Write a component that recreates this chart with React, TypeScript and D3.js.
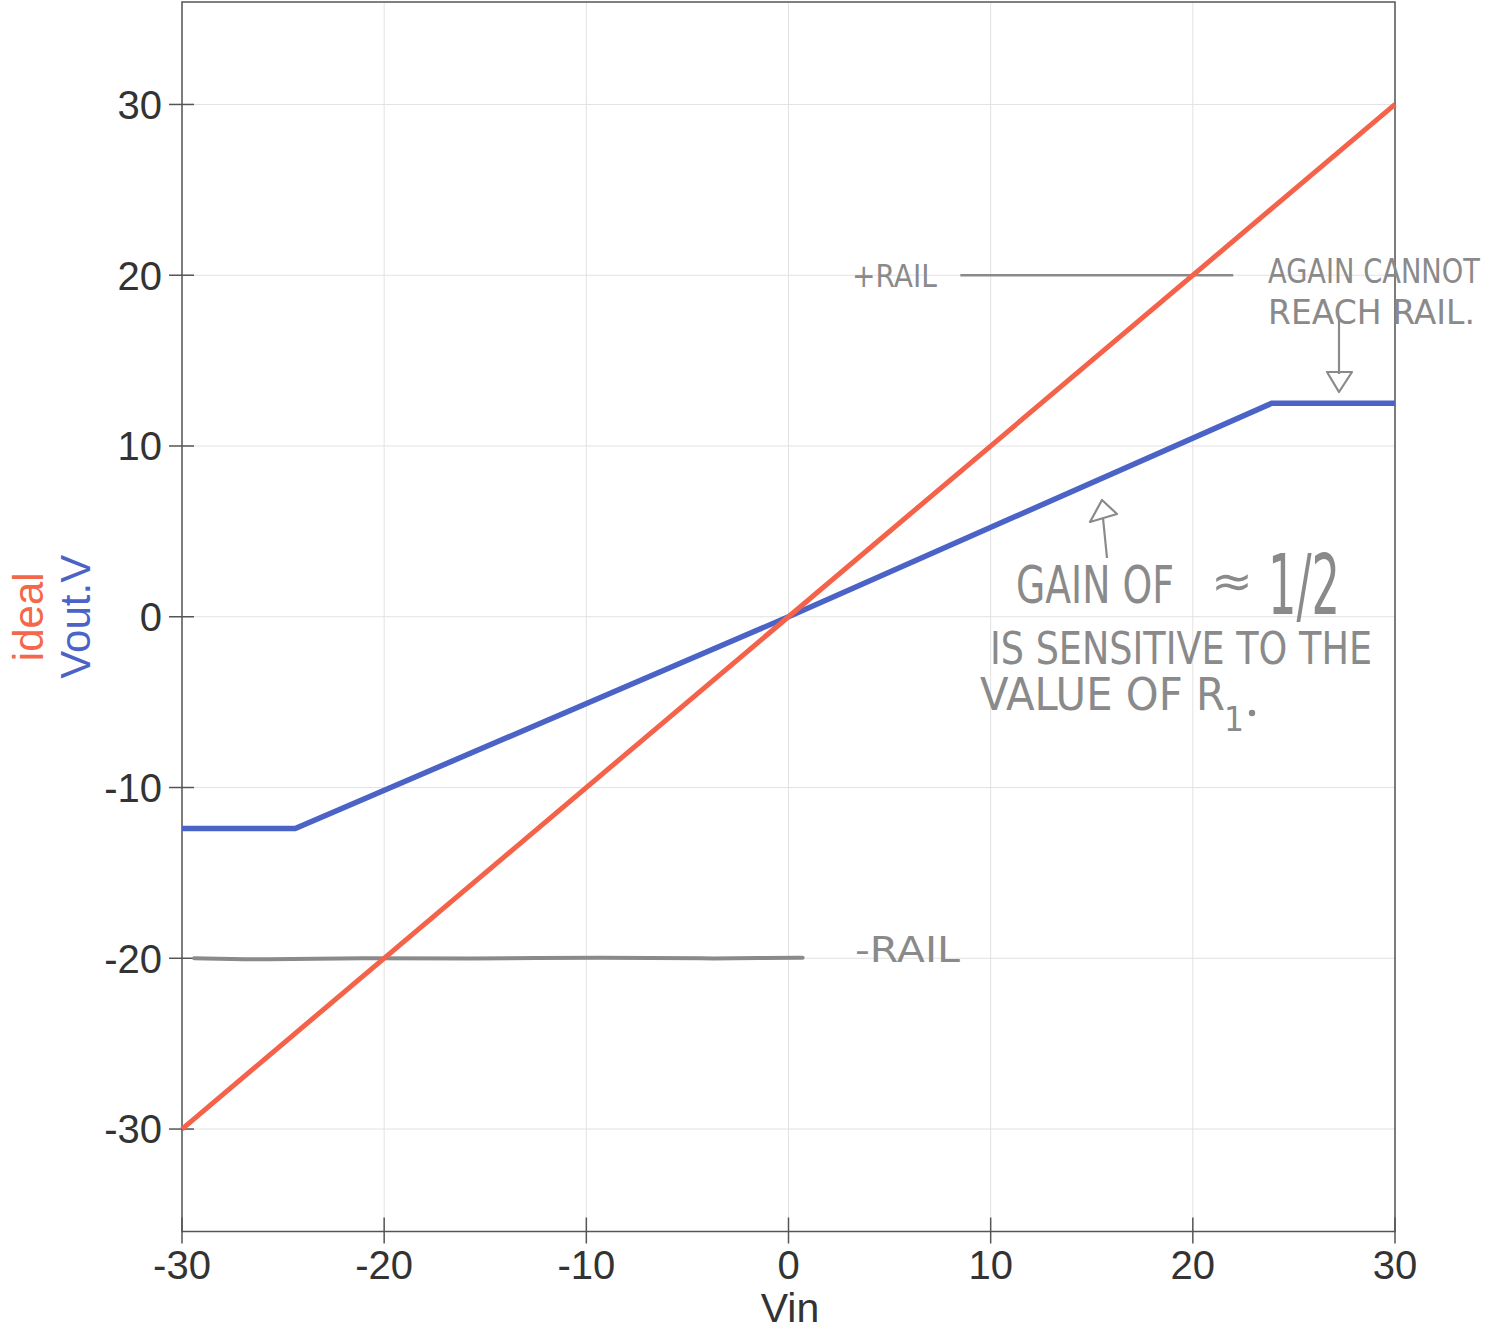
import React, { useLayoutEffect, useRef, useState } from "react";
import * as d3 from "d3";

// ---- data ----
const idealVin = [-30, 30];
const idealVout = [-30, 30];
const voutVin = [-30, -24.4, 0, 23.9, 30];
const voutV = [-12.4, -12.4, 0, 12.5, 12.5];
const xTicks = [-30, -20, -10, 0, 10, 20, 30];
const yTicks = [-30, -20, -10, 0, 10, 20, 30];
const posRailVin = [8.5, 22.0];
const negRailVin = [-29.4, -26, -21, -16, -9, -4, -1, 0.7];
const negRailV = [-20.0, -20.1, -19.97, -20.05, -19.93, -20.03, -19.98, -19.97];

const W = 1494;
const H = 1331;
const FONT = "'Liberation Sans', Arial, Helvetica, sans-serif";
const HAND = "'DejaVu Sans', sans-serif";
const PENCIL = "#8a8a8a";

function HandText(props: { x: number; y: number; w: number; size: number; sy?: number; children: string }) {
  const ref = useRef<SVGTextElement>(null);
  const [sx, setSx] = useState(1);
  const sy = props.sy ?? 1;
  useLayoutEffect(() => {
    if (ref.current) {
      const len = ref.current.getComputedTextLength();
      if (len > 0) setSx(props.w / len);
    }
  }, [props.w, props.children, props.size]);
  return (
    <text
      ref={ref}
      transform={`translate(${props.x},${props.y}) scale(${sx},${sy})`}
      fontSize={props.size}
      fontFamily={HAND}
      fill={PENCIL}
    >
      {props.children}
    </text>
  );
}

export default function App() {
  const x = d3.scaleLinear().domain([-30, 30]).range([182, 1395]);
  const y = d3.scaleLinear().domain([-36, 36]).range([1231.5, 2]);
  const line = d3
    .line<[number, number]>()
    .x((d) => x(d[0]))
    .y((d) => y(d[1]));
  const wavy = d3
    .line<[number, number]>()
    .x((d) => x(d[0]))
    .y((d) => y(d[1]))
    .curve(d3.curveBasis);

  const ideal = idealVin.map((v, i) => [v, idealVout[i]] as [number, number]);
  const vout = voutVin.map((v, i) => [v, voutV[i]] as [number, number]);
  const negRail = negRailVin.map((v, i) => [v, negRailV[i]] as [number, number]);

  const [x0, x1] = x.range();
  const [y0, y1] = y.range();

  return (
    <svg
      width={W}
      height={H}
      style={{ position: "absolute", left: 0, top: 0, background: "#fff" }}
    >
      {/* grid */}
      {xTicks.map((t) => (
        <line key={"gx" + t} x1={x(t)} x2={x(t)} y1={y1} y2={y0} stroke="#e2e2e2" strokeWidth={1} />
      ))}
      {yTicks.map((t) => (
        <line key={"gy" + t} x1={x0} x2={x1} y1={y(t)} y2={y(t)} stroke="#e2e2e2" strokeWidth={1} />
      ))}

      {/* frame */}
      <rect x={x0} y={y1} width={x1 - x0} height={y0 - y1} fill="none" stroke="#555" strokeWidth={1.5} />

      {/* y ticks */}
      {yTicks.map((t) => (
        <g key={"yt" + t}>
          <line x1={x0 - 13} x2={x0 + 12} y1={y(t)} y2={y(t)} stroke="#555" strokeWidth={1.5} />
          <text
            x={x0 - 20}
            y={y(t)}
            dy="0.36em"
            textAnchor="end"
            fontFamily={FONT}
            fontSize={40}
            fill="#333"
          >
            {t}
          </text>
        </g>
      ))}
      {/* x ticks */}
      {xTicks.map((t) => (
        <g key={"xt" + t}>
          <line x1={x(t)} x2={x(t)} y1={y0 - 14} y2={y0 + 12} stroke="#555" strokeWidth={1.5} />
          <text x={x(t)} y={y0 + 47} textAnchor="middle" fontFamily={FONT} fontSize={40} fill="#333">
            {t}
          </text>
        </g>
      ))}

      {/* axis labels */}
      <text x={790} y={1322} textAnchor="middle" fontFamily={FONT} fontSize={41} fill="#333">
        Vin
      </text>
      <text
        transform={`translate(43,${y(0)}) rotate(-90)`}
        textAnchor="middle"
        fontFamily={FONT}
        fontSize={42}
        fill="#f5674a"
      >
        ideal
      </text>
      <text
        transform={`translate(90,${y(0)}) rotate(-90)`}
        textAnchor="middle"
        fontFamily={FONT}
        fontSize={42}
        fill="#4b63c6"
      >
        Vout.V
      </text>

      {/* rails (pencil) */}
      <path
        d={line(posRailVin.map((v) => [v, 20] as [number, number])) || ""}
        fill="none"
        stroke={PENCIL}
        strokeWidth={2.5}
      />
      <path d={wavy(negRail) || ""} fill="none" stroke={PENCIL} strokeWidth={4} strokeLinecap="round" />

      {/* data lines */}
      <path d={line(vout) || ""} fill="none" stroke="#4b63c6" strokeWidth={5.5} />
      <path d={line(ideal) || ""} fill="none" stroke="#f5624a" strokeWidth={5} />

      {/* handwritten annotations */}
      <HandText x={852} y={287} w={85} size={32}>+RAIL</HandText>
      <HandText x={1268} y={283} w={212} size={34}>AGAIN CANNOT</HandText>
      <HandText x={1268} y={324} w={207} size={34}>REACH RAIL.</HandText>
      <HandText x={1016} y={603} w={158} size={52}>GAIN OF</HandText>
      <HandText x={1211} y={597} w={42} size={46}>≈</HandText>
      <HandText x={1268} y={614} w={72} size={60} sy={1.4}>1/2</HandText>
      <HandText x={990} y={664} w={382} size={40} sy={1.1}>IS SENSITIVE TO THE</HandText>
      <HandText x={980} y={710} w={245} size={40} sy={1.1}>VALUE OF R</HandText>
      <HandText x={1224} y={731} w={20} size={34}>1</HandText>
      <circle cx={1252} cy={713} r={3.2} fill={PENCIL} />
      <HandText x={855} y={962} w={105} size={36}>-RAIL</HandText>

      {/* arrows */}
      <g fill="none" stroke={PENCIL} strokeWidth={2.2} strokeLinejoin="round">
        <line x1={1339} y1={318} x2={1339} y2={374} />
        <path d="M1327,372 L1352,372 L1339,392 Z" />
        <line x1={1107} y1={558} x2={1103} y2={518} />
        <path d="M1090,522 L1117,514 L1102,500 Z" />
      </g>
    </svg>
  );
}
